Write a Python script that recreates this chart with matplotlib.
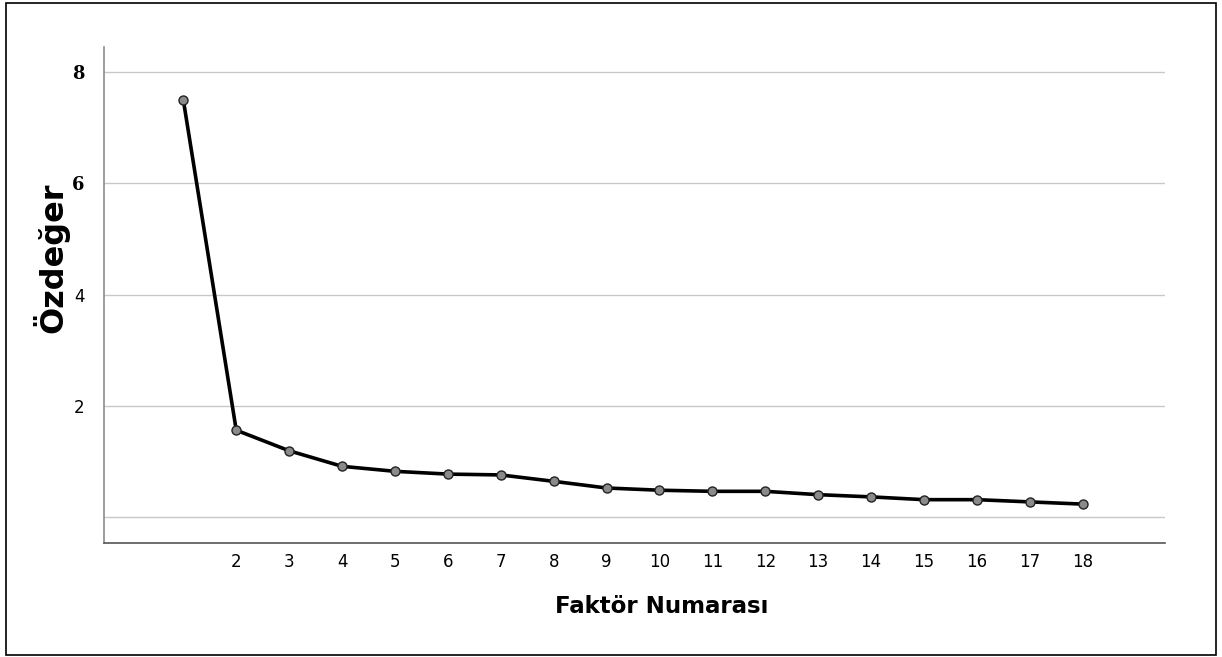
import matplotlib.pyplot as plt
from matplotlib.patches import Rectangle

faktor = list(range(1, 19))
ozdeger = [7.50, 1.56, 1.19, 0.91, 0.82, 0.77, 0.755, 0.64, 0.52, 0.48,
           0.46, 0.46, 0.40, 0.36, 0.31, 0.31, 0.27, 0.23]
x_ticks = list(range(2, 19))
y_ticks = [0, 2, 4, 6, 8]
y_labels = ["", "2", "4", "6", "8"]

fig = plt.figure(figsize=(12.22, 6.57), dpi=100)
ax = fig.add_axes([0.0851, 0.1735, 0.868, 0.7545])

ax.plot(faktor, ozdeger, color="black", linewidth=2.6, marker="o",
        markersize=6.5, markerfacecolor="#8a8a8a", markeredgecolor="#222222",
        markeredgewidth=1.0, zorder=3)

ax.set_xlim(-0.5, 19.55)
ax.set_ylim(-0.47, 8.45)
ax.set_xticks(x_ticks)
ax.set_yticks(y_ticks)
ax.set_yticklabels(y_labels)
ax.tick_params(length=0, labelsize=12, pad=7)
ax.tick_params(axis="y", pad=14)
for lab in ax.get_yticklabels():
    if lab.get_text() in ("6", "8"):
        lab.set_fontfamily("DejaVu Serif")
        lab.set_fontweight("bold")
        lab.set_fontsize(13)

ax.grid(axis="y", color="#c8c8c8", linewidth=1.0)
ax.set_axisbelow(True)
for s in ("top", "right"):
    ax.spines[s].set_visible(False)
ax.spines["left"].set_color("#8c8c8c")
ax.spines["left"].set_linewidth(1.2)
ax.spines["bottom"].set_color("#555555")
ax.spines["bottom"].set_linewidth(1.2)

ax.set_xlabel("Faktör Numarası", fontsize=16.5, fontweight="bold")
ax.xaxis.set_label_coords(0.526, -0.105)
ax.set_ylabel("Özdeğer", fontsize=23, fontweight="heavy")
ax.yaxis.set_label_coords(-0.033, 0.575)

fig.patches.append(Rectangle((0.005, 0.003), 0.99, 0.992, transform=fig.transFigure,
                             fill=False, edgecolor="black", linewidth=1.2))

fig.savefig("out.png", dpi=100)
